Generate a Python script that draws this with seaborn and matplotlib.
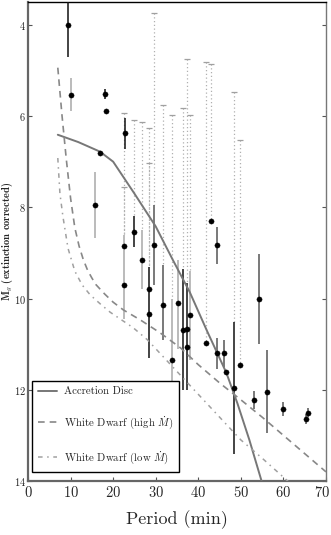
import numpy as np
import pandas as pd
import matplotlib
matplotlib.use("Agg")
import matplotlib.pyplot as plt
import matplotlib.transforms as mtransforms
import seaborn as sns

# ---------------- data ----------------
# model curves
disc_period = [7.0, 11.8, 16.9, 20.0, 25.0, 30.0, 34.0, 38.0, 42.0, 46.6, 49.2, 52.0, 55.5]
disc_mag = [6.41, 6.57, 6.78, 7.0, 7.7, 8.42, 9.15, 9.86, 10.7, 11.63, 12.3, 13.1, 14.2]

wd_high_period = [7.0, 8.0, 9.0, 10.0, 11.0, 12.0, 13.0, 14.0, 15.0, 16.0, 18.0, 20.0, 22.4,
                  26.4, 31.0, 35.8, 40.0, 45.0, 50.0, 55.0, 60.0, 65.0, 70.0]
wd_high_mag = [4.94, 6.0, 6.95, 7.8, 8.45, 8.85, 9.15, 9.38, 9.55, 9.7, 9.9, 10.08, 10.25,
               10.47, 10.75, 11.08, 11.45, 11.85, 12.22, 12.6, 13.0, 13.4, 13.8]

wd_low_period = [7.0, 7.5, 8.2, 9.4, 11.0, 12.7, 14.6, 17.0, 19.3, 24.7, 28.0, 31.0, 35.0,
                 40.0, 45.0, 50.0, 55.0, 61.0, 63.0]
wd_low_mag = [6.92, 7.7, 8.2, 8.9, 9.4, 9.7, 9.92, 10.12, 10.3, 10.64, 10.9, 11.2, 11.6,
              12.1, 12.6, 13.1, 13.5, 14.0, 14.2]

# observed systems
obs_period = [9.4, 10.1, 18.1, 18.3, 22.8, 16.9, 15.8, 22.6, 22.6, 25.0, 26.8, 29.6, 28.5,
              28.5, 31.6, 33.9, 35.2, 36.5, 37.4, 37.4, 38.1, 41.9, 44.5, 46.1, 46.6, 48.3,
              49.7, 53.0, 54.3, 56.2, 59.8, 65.2, 65.7, 44.5, 43.0]
obs_mag = [4.0, 5.53, 5.51, 5.90, 6.37, 6.80, 7.95, 8.85, 9.70, 8.54, 9.15, 8.83, 9.79,
           10.34, 10.14, 11.35, 10.10, 10.70, 10.67, 11.06, 10.36, 10.97, 11.19, 11.20, 11.60, 11.96,
           11.46, 12.22, 10.00, 12.05, 12.42, 12.64, 12.50, 8.82, 8.30]
obs_bright = [3.3, 5.17, 5.40, 5.90, 6.05, 6.80, 7.23, 8.85, 8.60, 8.20, 8.50, 7.95, 9.30,
              10.34, 9.26, 10.0, 9.15, 9.35, 9.65, 11.06, 9.40, 10.97, 10.86, 10.90, 11.60, 10.51,
              11.46, 12.02, 9.02, 11.13, 12.27, 12.54, 12.40, 8.43, 8.30]
obs_faint = [4.7, 5.89, 5.62, 5.90, 6.72, 6.80, 8.67, 8.85, 10.45, 8.87, 9.80, 9.70, 11.30,
             10.34, 10.90, 13.0, 11.10, 12.0, 12.0, 11.06, 11.35, 10.97, 11.55, 11.50, 11.60, 13.40,
             11.46, 12.42, 11.00, 12.95, 12.57, 12.74, 12.60, 9.24, 8.30]
obs_bar = ["black", "light", "black", "none", "black", "none", "light", "none", "light", "black",
           "light", "dark", "black", "none", "dark", "light", "light", "black", "black", "none",
           "light", "none", "dark", "dark", "none", "black", "none", "dark", "dark", "dark",
           "dark", "dark", "dark", "dark", "none"]

# dotted limits (extension of the bright side)
lim_period = [22.6, 22.6, 25.0, 26.8, 28.5, 28.5, 29.6, 31.6, 33.9, 36.5, 37.4, 38.1, 41.9,
              43.0, 48.3, 49.7]
lim_top = [5.93, 7.55, 6.08, 6.13, 6.26, 7.03, 3.74, 5.75, 5.97, 5.82, 4.75, 5.97, 4.81,
           4.86, 5.47, 6.52]
lim_bottom = [8.60, 8.60, 8.20, 8.50, 9.30, 9.30, 7.95, 9.26, 10.0, 9.35, 9.65, 9.40, 10.97,
              8.30, 10.51, 11.46]

x_ticks = [0, 10, 20, 30, 40, 50, 60, 70]
y_ticks = [4, 6, 8, 10, 12, 14]

# ---------------- style ----------------
sns.set_style("white")
plt.rcParams["font.family"] = ["cmr10", "DejaVu Serif"]
plt.rcParams["mathtext.fontset"] = "cm"
plt.rcParams["axes.formatter.use_mathtext"] = True

fig = plt.figure(figsize=(3.31, 5.35), dpi=100)
ax = fig.add_axes([28 / 331, 1 - 481 / 535, 298 / 331, 479 / 535])

# dotted limit lines
lim = pd.DataFrame({"p": lim_period, "top": lim_top, "bot": lim_bottom})
ax.vlines(lim["p"], lim["top"], lim["bot"], colors="#b0b0b0", linestyles=(0, (1, 2)),
          linewidth=0.9, zorder=1)
ax.plot(lim["p"], lim["top"], ls="none", marker="_", ms=5, mew=0.9, color="#a0a0a0", zorder=1)

# error bars
obs = pd.DataFrame({"p": obs_period, "m": obs_mag, "lo": obs_bright, "hi": obs_faint,
                    "bar": obs_bar})
bar_colors = {"black": "#111111", "dark": "#555555", "light": "#a8a8a8"}
for kind, col in bar_colors.items():
    sub = obs[obs["bar"] == kind]
    ax.vlines(sub["p"], sub["lo"], sub["hi"], colors=col, linewidth=1.1,
              zorder=3 if kind != "light" else 2)

# model curves
sns.lineplot(x=disc_period, y=disc_mag, ax=ax, color="#777777", lw=1.4, sort=False,
             label="Accretion Disc", zorder=4)
sns.lineplot(x=wd_high_period, y=wd_high_mag, ax=ax, color="#888888", lw=1.2, sort=False,
             linestyle=(0, (4, 3)), label=r"White Dwarf (high $\dot{M}$)", zorder=4)
sns.lineplot(x=wd_low_period, y=wd_low_mag, ax=ax, color="#a0a0a0", lw=1.1, sort=False,
             linestyle=(0, (3, 3, 1, 3)), label=r"White Dwarf (low $\dot{M}$)", zorder=4)

# points
sns.scatterplot(data=obs, x="p", y="m", ax=ax, color="black", s=14, edgecolor="black",
                linewidth=0.3, zorder=5, legend=False)

ax.set_xlim(0, 70)
ax.set_ylim(14, 3.5)
ax.set_xticks(x_ticks)
ax.set_yticks(y_ticks)
ax.set_xlabel("Period (min)", fontsize=13, labelpad=7)
ax.set_ylabel(r"M$_g$ (extinction corrected)", fontsize=7.5, family="cmb10")
ax.yaxis.set_label_coords(-0.0436, 0.5)

ax.tick_params(axis="x", which="both", direction="in", length=3, labelsize=10.5, pad=3,
               top=False, bottom=True, color="#555555")
ax.tick_params(axis="y", which="both", direction="in", length=3, labelsize=7.5, pad=1.5,
               left=True, right=True, color="#555555")

for side in ["left", "bottom"]:
    ax.spines[side].set_color("#666666")
    ax.spines[side].set_linewidth(1.6)
ax.spines["right"].set_color("#777777")
ax.spines["right"].set_linewidth(1.0)
ax.spines["top"].set_color("black")
ax.spines["top"].set_linewidth(1.0)

leg = ax.legend(loc="lower left", bbox_to_anchor=(0.013, 0.019), fontsize=7.8, frameon=True,
                fancybox=False, shadow=False, handlelength=1.8, handletextpad=0.6,
                labelspacing=1.65, borderpad=0.55, borderaxespad=0.0)
leg.get_frame().set_edgecolor("black")
leg.get_frame().set_linewidth(1.0)
leg.get_frame().set_alpha(1.0)

# keep the last x tick label inside the figure
fig.canvas.draw()
last = ax.get_xticklabels()[-1]
last.set_horizontalalignment("right")
last.set_transform(last.get_transform() +
                   mtransforms.ScaledTranslation(4.5 / 100, 0, fig.dpi_scale_trans))

fig.savefig("out.png", dpi=100)
